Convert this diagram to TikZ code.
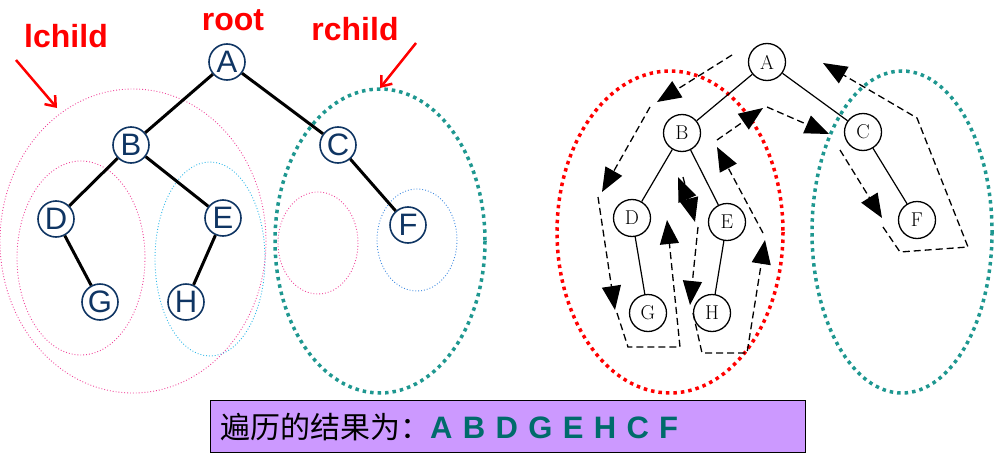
\documentclass[tikz,border=0pt]{standalone}
\usepackage{fontspec}
\setsansfont{Liberation Sans}
\newfontfamily\cjk{Noto Sans CJK SC}
\usetikzlibrary{arrows.meta}
\definecolor{navy}{HTML}{0F3563}
\definecolor{tealc}{HTML}{1E9790}
\definecolor{pinkc}{HTML}{F0449A}
\definecolor{cyanc}{HTML}{2DB7E8}
\definecolor{bluec}{HTML}{3D8AE0}
\definecolor{lav}{HTML}{CC99FF}
\definecolor{restxt}{HTML}{006B6B}
\tikzset{walk/.style={line width=1.3pt,dash pattern=on 7pt off 4pt},
 wa/.style={walk,-{Triangle[length=24pt,width=19pt]}}}
\begin{document}
\begin{tikzpicture}[x=1pt,y=-1pt,
 lnode/.style={circle,draw=navy,line width=1.6pt,fill=white,minimum size=36pt,inner sep=0pt,text=navy,font=\sffamily\fontsize{31}{31}\selectfont},
 rnode/.style={circle,draw=black,line width=1.3pt,fill=white,minimum size=37pt,inner sep=0pt,font=\rmfamily\fontsize{20}{20}\selectfont},
 ledge/.style={line width=3pt},
 redge/.style={line width=1.2pt},
 thin dot/.style={dotted,line width=0.9pt},
 thick dot/.style={line width=3.5pt,dash pattern=on 3.5pt off 4pt},
 lab/.style={text=red,font=\sffamily\bfseries\fontsize{32}{32}\selectfont},
 redarrow/.style={red,line width=2.5pt,-{Straight Barb[length=9pt,width=14pt]}}]
\useasboundingbox (0,0) rectangle (1006,455);
% left ellipses
\draw[thin dot,pinkc] (133,241) ellipse [x radius=133,y radius=152];
\draw[thin dot,pinkc] (81,258) ellipse [x radius=64,y radius=97];
\draw[thin dot,cyanc] (210,259) ellipse [x radius=55,y radius=97];
\draw[thick dot,tealc] (380,241) ellipse [x radius=105,y radius=152];
\draw[thin dot,pinkc] (318,243) ellipse [x radius=40,y radius=51];
\draw[thin dot,bluec] (417,240) ellipse [x radius=40,y radius=51];
% left tree
\node[lnode] (A) at (227,62) {A};
\node[lnode] (B) at (131,145) {B};
\node[lnode] (C) at (338,145) {C};
\node[lnode] (D) at (56,219) {D};
\node[lnode] (E) at (223,218) {E};
\node[lnode] (F) at (408,225) {F};
\node[lnode] (G) at (100,302) {G};
\node[lnode] (H) at (186,302) {H};
\draw[ledge] (A)--(B) (A)--(C) (B)--(D) (B)--(E) (D)--(G) (E)--(H) (C)--(F);
\node[lab] (lroot) at (233,20) {root};
\node[lab] (llc) at (66,36) {lchild};
\node[lab] (lrc) at (355,29) {rchild};
\coordinate (la1) at (16,60); \coordinate (la2) at (57,108);
\coordinate (ra1) at (416,43); \coordinate (ra2) at (380,88);
\draw[redarrow] (la1)--(la2);
\draw[redarrow] (ra1)--(ra2);
% right ellipses
\draw[thick dot,red] (670,232) ellipse [x radius=113,y radius=161];
\draw[thick dot,tealc] (902,232) ellipse [x radius=90,y radius=161];
% right tree
\node[rnode] (rA) at (767,62) {A};
\node[rnode] (rB) at (682,133) {B};
\node[rnode] (rC) at (863,132) {C};
\node[rnode] (rD) at (632,218) {D};
\node[rnode] (rE) at (727,222) {E};
\node[rnode] (rF) at (917,220) {F};
\node[rnode] (rG) at (648,313) {G};
\node[rnode] (rH) at (712,313) {H};
\draw[redge] (rA)--(rB) (rA)--(rC) (rB)--(rD) (rB)--(rE) (rD)--(rG) (rE)--(rH) (rC)--(rF);
% traversal
\draw[wa] (732,55)--(657,102);
\draw[wa] (650,107)--(602,192);
\draw[wa] (598,197)--(615,310);
\draw[wa] (617,313)--(628,347)--(680,347)--(667,220);
\draw[wa] (692,210)--(678,177);
\draw[wa] (683,177)--(695,222);
\draw[wa] (698,227)--(690,305);
\draw[wa] (693,313)--(702,353)--(747,353)--(765,240);
\draw[wa] (763,233)--(717,147);
\draw[wa] (717,140)--(763,108);
\draw[wa] (767,107)--(829,134);
\draw[wa] (840,150)--(882,218);
\draw[wa] (883,227)--(900,252)--(968,247)--(917,118)--(823,63);
% result box
\node[draw=black,thick,fill=lav,minimum width=595pt,minimum height=52pt,anchor=north west,inner sep=0pt] (res) at (210,400) {};
\node[anchor=west,inner sep=0pt] (rt) at (220,427) {{\cjk\fontsize{30}{30}\selectfont 遍历的结果为：}{\sffamily\bfseries\fontsize{31}{31}\selectfont\color{restxt}A\,\,B\,\,D\,\,G\,\,E\,\,H\,\,C\,\,F}};
\end{tikzpicture}
\end{document}
